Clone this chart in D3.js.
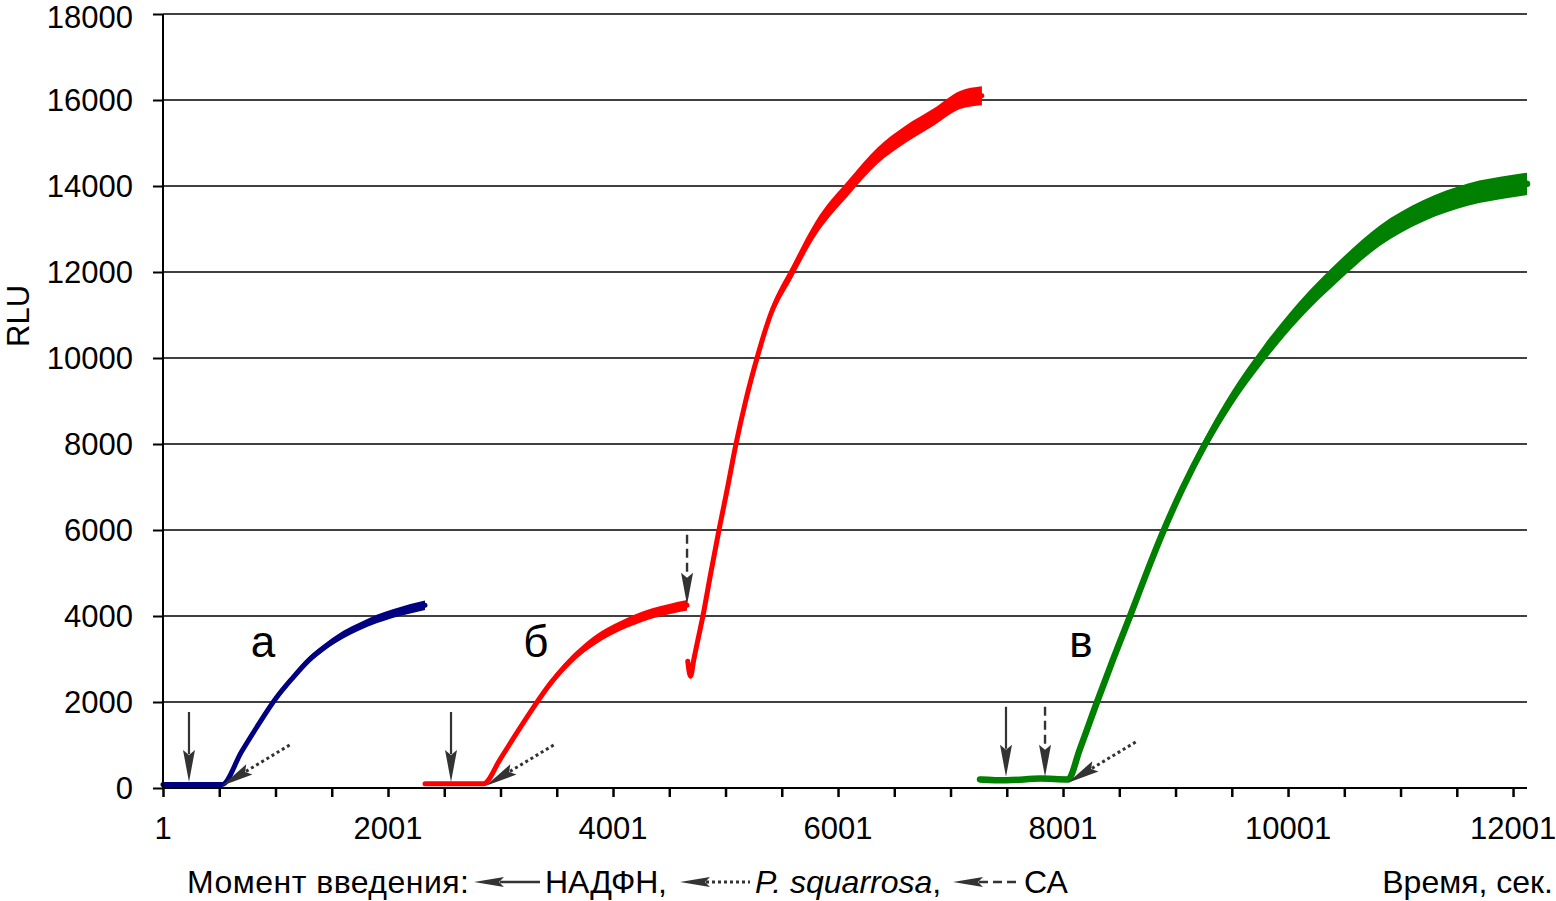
<!DOCTYPE html>
<html><head><meta charset="utf-8">
<script src="https://cdn.jsdelivr.net/npm/d3@7"></script>
<style>
html,body{margin:0;padding:0;background:#fff;}
text{font-family:"Liberation Sans",Arial,sans-serif;}
</style></head>
<body><svg id="c" width="1556" height="901"></svg>
<script>
// ---- data ----
const yTicks = [0,2000,4000,6000,8000,10000,12000,14000,16000,18000];
const xTickLabels = [1,2001,4001,6001,8001,10001,12001];
const xMinorTicks = d3.range(1, 12002, 500);

const blueT = [1,250,525,700,850,1000,1150,1300,1450,1600,1750,1900,2050,2200,2330];
const blueV = [80,80,80,850,1480,2070,2550,2980,3300,3560,3760,3930,4060,4170,4250];
const blueS = [40,40,40,50,60,70,70,80,80,90,90,100,100,110,110];

const redAT = [2330,2600,2850,3000,3150,3300,3450,3600,3750,3900,4050,4200,4350,4500,4659];
const redAV = [100,100,100,680,1300,1900,2450,2900,3260,3540,3750,3920,4060,4160,4250];
const redAS = [40,40,40,50,60,70,80,90,100,110,110,120,120,120,120];

const redBT = [4665,4690,4720,4760,4800,4870,4943,5020,5094,5180,5281,5400,5592,5800,6107,6350,6600,6850,7085,7280];
const redBV = [2950,2600,3000,3500,4000,5000,6000,7000,8000,9000,10000,11000,12000,13000,14000,14700,15200,15600,16000,16100];
const redBS = [60,60,60,60,60,80,80,90,100,110,120,130,150,170,180,190,200,200,210,220];

const greenT = [7263,7500,7800,8045,8150,8303,8450,8597,8740,8881,9060,9264,9500,9779,10100,10463,10819,11200,11600,12000,12125];
const greenV = [200,180,220,200,900,2000,3020,4000,4980,5900,6950,8000,9050,10080,11100,12050,12850,13420,13800,14000,14050];
const greenS = [60,60,60,60,70,80,90,100,110,120,130,150,170,190,210,230,240,250,260,260,260];

// injection moments: NADPH (solid), P. squarrosa (dotted), CA (dashed)
const nadphT = [232, 2561, 7494];
const nadphV = [140, 140, 260];
const squarT = [525, 2872, 8045];
const squarV = [50, 50, 120];
const caT = [4659, 7841];
const caV = [4260, 260];

const curveLabels = ["а","б","в"];
const curveLabelT = [890, 3316, 8161];
const curveLabelV = [3050, 3050, 3050];

// ---- drawing ----
const svg = d3.select("#c");
const x = d3.scaleLinear().domain([1, 12125]).range([163, 1527]);
const y = d3.scaleLinear().domain([0, 18000]).range([788, 14]);

// gridlines
svg.append("g").selectAll("line").data(yTicks.filter(d=>d>0)).join("line")
  .attr("x1", 163).attr("x2", 1527)
  .attr("y1", d=>y(d)).attr("y2", d=>y(d))
  .attr("stroke", "#000").attr("stroke-width", 1.6);

function series(T, V, S, color, w) {
  const pts = T.map((t,i)=>({t, v:V[i], s:S[i]}));
  svg.append("path").datum(pts)
    .attr("d", d3.area().x(d=>x(d.t)).y0(d=>y(d.v - d.s)).y1(d=>y(d.v + d.s)).curve(d3.curveMonotoneX))
    .attr("fill", color);
  svg.append("path").datum(pts)
    .attr("d", d3.line().x(d=>x(d.t)).y(d=>y(d.v)).curve(d3.curveMonotoneX))
    .attr("fill", "none").attr("stroke", color).attr("stroke-width", w)
    .attr("stroke-linejoin", "round").attr("stroke-linecap", "round");
}
series(blueT, blueV, blueS, "#000080", 5);
series(redAT, redAV, redAS, "#ff0000", 5);
series(redBT, redBV, redBS, "#ff0000", 5);
series(greenT, greenV, greenS, "#008000", 6.5);

// axes
const yAxis = d3.axisLeft(y).tickValues(yTicks).tickSize(10).tickPadding(20).tickFormat(d3.format("d"));
const gy = svg.append("g").attr("transform", "translate(163,0)").call(yAxis);
gy.selectAll("text").style("font-size", "31px").attr("fill", "#000")
  .attr("dy", d => d === 18000 ? "0.45em" : "0.35em");
gy.selectAll("line").attr("stroke", "#000").attr("stroke-width", 2);
gy.select(".domain").attr("stroke", "#000").attr("stroke-width", 2).attr("d", "M0,14V788");

const xAxis = d3.axisBottom(x).tickValues(xMinorTicks).tickSize(9).tickFormat("");
const gx = svg.append("g").attr("transform", "translate(0,788)").call(xAxis);
gx.selectAll("line").attr("stroke", "#000").attr("stroke-width", 2.5);
gx.select(".domain").attr("stroke", "#000").attr("stroke-width", 2).attr("d", "M163,0H1527");

svg.append("g").selectAll("text").data(xTickLabels).join("text")
  .attr("x", d=>x(d)).attr("y", 839).attr("text-anchor", "middle")
  .style("font-size", "31px").text(d=>d);

// y title
svg.append("text").attr("transform", "translate(29,316) rotate(-90)")
  .attr("text-anchor", "middle").style("font-size", "31px").text("RLU");

// arrows
const AC = "#333";
function head(g, tx, ty, angle) {
  g.append("path")
    .attr("d", "M0,0 L-6,-32 L0,-27 L6,-32 Z")
    .attr("transform", `translate(${tx},${ty}) rotate(${angle})`)
    .attr("fill", AC);
}
const ga = svg.append("g");
nadphT.forEach((t,i)=>{
  const tx = x(t), ty = y(nadphV[i]);
  ga.append("line").attr("x1", tx).attr("x2", tx).attr("y1", ty-70).attr("y2", ty-28)
    .attr("stroke", AC).attr("stroke-width", 2.2);
  head(ga, tx, ty, 0);
});
caT.forEach((t,i)=>{
  const tx = x(t), ty = y(caV[i]);
  ga.append("line").attr("x1", tx).attr("x2", tx).attr("y1", ty-70).attr("y2", ty-28)
    .attr("stroke", AC).attr("stroke-width", 2.4).attr("stroke-dasharray", "9,5");
  head(ga, tx, ty, 0);
});
squarT.forEach((t,i)=>{
  const tx = x(t), ty = y(squarV[i]);
  const dx = 68, dy = -41;
  const ang = Math.atan2(dy, dx) * 180 / Math.PI;
  const len = Math.hypot(dx, dy);
  const ux = dx/len, uy = dy/len;
  ga.append("line").attr("x1", tx + ux*28).attr("y1", ty + uy*28).attr("x2", tx+dx).attr("y2", ty+dy)
    .attr("stroke", AC).attr("stroke-width", 3).attr("stroke-dasharray", "3,3");
  head(ga, tx, ty, ang + 90);
});

// curve labels
svg.append("g").selectAll("text").data(curveLabels).join("text")
  .attr("x", (d,i)=>x(curveLabelT[i])).attr("y", (d,i)=>y(curveLabelV[i]))
  .attr("text-anchor", "middle").style("font-size", "44px").text(d=>d);

// bottom legend
const lg = svg.append("g");
const LY = 893;
lg.append("text").attr("x", 187).attr("y", LY).style("font-size", "32px")
  .attr("textLength", 282).text("Момент введения:");
function legArrow(x0, x1, dash) {
  lg.append("line").attr("x1", x0+26).attr("x2", x1).attr("y1", LY-11).attr("y2", LY-11)
    .attr("stroke", AC).attr("stroke-width", dash==="3,3" ? 3 : 2.4).attr("stroke-dasharray", dash);
  lg.append("path").attr("d", "M0,0 L-5,-30 L0,-25 L5,-30 Z")
    .attr("transform", `translate(${x0},${LY-11}) rotate(90)`).attr("fill", AC);
}
legArrow(474, 540, null);
lg.append("text").attr("x", 545).attr("y", LY).style("font-size", "32px")
  .attr("textLength", 122).text("НАДФН,");
legArrow(680, 750, "3,3");
const ps = lg.append("text").attr("x", 755).attr("y", LY).style("font-size", "32px");
ps.append("tspan").style("font-style","italic").text("P. squarrosa");
ps.append("tspan").text(",");
legArrow(953, 1020, "9,5");
lg.append("text").attr("x", 1024).attr("y", LY).style("font-size", "32px").text("СА");

svg.append("text").attr("x", 1553).attr("y", LY).attr("text-anchor", "end").style("font-size", "32px").text("Время, сек.");
</script></body></html>
